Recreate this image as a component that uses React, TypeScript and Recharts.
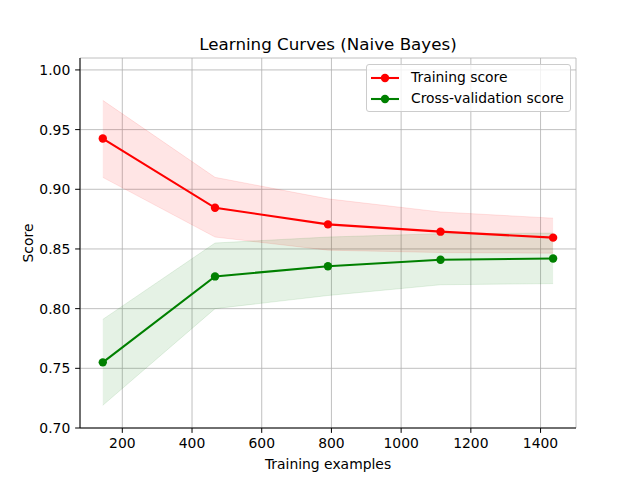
import React from 'react';
import { ComposedChart, Line, Area, XAxis, YAxis, CartesianGrid, Label } from 'recharts';

const trainSizes = [144, 466, 790, 1113, 1436];
const trainMean = [0.9425, 0.8845, 0.8706, 0.8645, 0.8595];
const trainLow = [0.910, 0.860, 0.849, 0.847, 0.8465];
const trainHigh = [0.9745, 0.910, 0.892, 0.881, 0.8758];
const cvMean = [0.755, 0.827, 0.8355, 0.841, 0.842];
const cvLow = [0.719, 0.800, 0.811, 0.820, 0.821];
const cvHigh = [0.791, 0.855, 0.860, 0.8628, 0.8633];

const xTicks = [200, 400, 600, 800, 1000, 1200, 1400];
const yTicks = [0.70, 0.75, 0.80, 0.85, 0.90, 0.95, 1.00];

const title = 'Learning Curves (Naive Bayes)';
const xLabel = 'Training examples';
const yLabel = 'Score';
const seriesNames = ['Training score', 'Cross-validation score'];

const data = trainSizes.map((x, i) => ({
  x,
  train: trainMean[i],
  cv: cvMean[i],
  trainBand: [trainLow[i], trainHigh[i]],
  cvBand: [cvLow[i], cvHigh[i]],
}));

const FONT = '"DejaVu Sans", sans-serif';
const RED = '#ff0000';
const GREEN = '#008000';

const tickStyle = { fill: '#000', fontSize: 13.9, fontFamily: FONT };

const LegendBox = () => (
  <div
    style={{
      position: 'absolute',
      left: 366,
      top: 64,
      border: '1px solid #cccccc',
      borderRadius: 3,
      background: 'rgba(255,255,255,0.8)',
      padding: '2px 6px 2px 4px',
      fontFamily: FONT,
      fontSize: 13.9,
      color: '#000',
      lineHeight: '21px',
    }}
  >
    {[RED, GREEN].map((c, i) => (
      <div key={i} style={{ display: 'flex', alignItems: 'center', whiteSpace: 'nowrap' }}>
        <svg width={28} height={12} style={{ marginRight: 12 }}>
          <line x1={0} y1={6} x2={28} y2={6} stroke={c} strokeWidth={2.08} />
          <circle cx={14} cy={6} r={4.2} fill={c} />
        </svg>
        <span>{seriesNames[i]}</span>
      </div>
    ))}
  </div>
);

export default function App() {
  return (
    <div style={{ position: 'absolute', left: 0, top: 0, width: 640, height: 480, background: '#fff' }}>
      <div
        style={{
          position: 'absolute',
          left: 80,
          top: 34,
          width: 496,
          textAlign: 'center',
          fontFamily: FONT,
          fontSize: 16.7,
          lineHeight: '20px',
          color: '#000',
        }}
      >
        {title}
      </div>
      <ComposedChart
        width={640}
        height={480}
        data={data}
        margin={{ top: 58, right: 64, bottom: 0, left: 0 }}
      >
        <CartesianGrid stroke="#b0b0b0" strokeWidth={0.8} />
        <XAxis
          dataKey="x"
          type="number"
          domain={[78.6, 1501.7]}
          ticks={xTicks}
          allowDataOverflow
          height={52}
          tick={tickStyle}
          tickSize={4.86}
          tickMargin={4.86}
          stroke="#000"
          tickLine={{ stroke: '#000' }}
          axisLine={{ stroke: '#000' }}
        >
          <Label value={xLabel} position="insideBottom" offset={11} style={{ fill: '#000', fontSize: 13.9, fontFamily: FONT }} />
        </XAxis>
        <XAxis xAxisId="top" orientation="top" dataKey="x" type="number" domain={[78.6, 1501.7]} height={0} tick={false} tickLine={false} axisLine={{ stroke: '#000' }} />
        <YAxis
          type="number"
          domain={[0.7, 1.01]}
          ticks={yTicks}
          allowDataOverflow
          width={80}
          tick={tickStyle}
          tickSize={4.86}
          tickMargin={4.86}
          tickFormatter={(v: number) => v.toFixed(2)}
          tickLine={{ stroke: '#000' }}
          axisLine={{ stroke: '#000' }}
        >
          <Label value={yLabel} angle={-90} position="insideLeft" offset={28} style={{ fill: '#000', fontSize: 13.9, fontFamily: FONT, textAnchor: 'middle' }} />
        </YAxis>
        <YAxis yAxisId="right" orientation="right" domain={[0.7, 1.01]} width={0} tick={false} tickLine={false} axisLine={{ stroke: '#000' }} />
        <Area
          dataKey="trainBand"
          type="linear"
          fill={RED}
          fillOpacity={0.1}
          stroke={RED}
          strokeOpacity={0.1}
          strokeWidth={1}
          isAnimationActive={false}
          legendType="none"
          activeDot={false}
        />
        <Area
          dataKey="cvBand"
          type="linear"
          fill={GREEN}
          fillOpacity={0.1}
          stroke={GREEN}
          strokeOpacity={0.1}
          strokeWidth={1}
          isAnimationActive={false}
          legendType="none"
          activeDot={false}
        />
        <Line
          dataKey="train"
          name={seriesNames[0]}
          type="linear"
          stroke={RED}
          strokeWidth={2.08}
          dot={{ r: 4.2, fill: RED, stroke: RED, strokeWidth: 0 }}
          isAnimationActive={false}
        />
        <Line
          dataKey="cv"
          name={seriesNames[1]}
          type="linear"
          stroke={GREEN}
          strokeWidth={2.08}
          dot={{ r: 4.2, fill: GREEN, stroke: GREEN, strokeWidth: 0 }}
          isAnimationActive={false}
        />
      </ComposedChart>
      <LegendBox />
    </div>
  );
}
